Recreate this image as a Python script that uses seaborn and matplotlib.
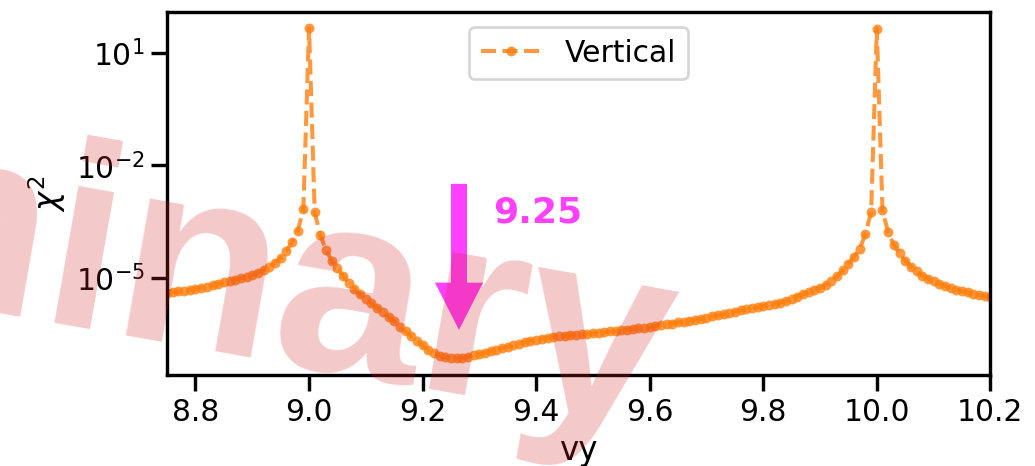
import numpy as np
import pandas as pd
import matplotlib
matplotlib.use("Agg")
import matplotlib.pyplot as plt
import matplotlib.transforms as mtransforms
from matplotlib.ticker import NullLocator
import seaborn as sns

# Vertical tune scan (step 0.01) and the fit chi^2, stored as log10 values
vy = np.round(np.arange(8.75, 10.2001, 0.01), 2)
log10_chi2 = [
    -5.40, -5.37, -5.36, -5.34, -5.32, -5.29, -5.27, -5.24, -5.20, -5.16,
    -5.12, -5.08, -5.05, -5.01, -4.97, -4.92, -4.86, -4.80, -4.71, -4.60,
    -4.47, -4.28, -4.05, -3.76, -3.16, 1.66, -3.25, -3.87, -4.26, -4.54,
    -4.75, -4.95, -5.13, -5.30, -5.44, -5.56, -5.68, -5.80, -5.92, -6.04,
    -6.16, -6.30, -6.43, -6.56, -6.68, -6.80, -6.92, -7.01, -7.08, -7.12,
    -7.14, -7.15, -7.13, -7.10, -7.07, -7.04, -7.00, -6.96, -6.92, -6.88,
    -6.84, -6.80, -6.76, -6.72, -6.68, -6.65, -6.62, -6.60, -6.58, -6.56,
    -6.55, -6.53, -6.52, -6.51, -6.50, -6.48, -6.47, -6.45, -6.43, -6.42,
    -6.40, -6.38, -6.37, -6.35, -6.33, -6.31, -6.29, -6.26, -6.24, -6.22,
    -6.19, -6.17, -6.14, -6.12, -6.10, -6.07, -6.03, -6.00, -5.97, -5.93,
    -5.90, -5.87, -5.84, -5.81, -5.78, -5.75, -5.72, -5.69, -5.66, -5.62,
    -5.56, -5.50, -5.44, -5.38, -5.32, -5.27, -5.19, -5.08, -4.96, -4.80,
    -4.63, -4.44, -4.22, -3.83, -3.24, 1.64, -3.20, -3.79, -4.12, -4.35,
    -4.54, -4.70, -4.83, -4.94, -5.02, -5.09, -5.16, -5.22, -5.27, -5.32,
    -5.36, -5.39, -5.42, -5.46, -5.49, -5.52,
]
series_label = "Vertical"
best_vy = 9.25
best_label = "9.25"
x_ticks = [8.8, 9.0, 9.2, 9.4, 9.6, 9.8, 10.0, 10.2]
y_ticks = [1e-5, 1e-2, 1e1]

df = pd.DataFrame({"vy": vy, "chi2": np.power(10.0, log10_chi2)})

sns.set_style("ticks")
sns.set_context("talk")
plt.rcParams.update({
    "font.family": ["DejaVu Sans"],
    "text.color": "black",
    "axes.labelcolor": "black",
    "axes.edgecolor": "black",
    "xtick.color": "black",
    "ytick.color": "black",
})

DPI = 130
fig = plt.figure(figsize=(1035.3 / DPI, 466.3 / DPI), dpi=DPI)
ax = fig.add_axes([0.1614, 0.1953, 0.7952, 0.779])

sns.lineplot(data=df, x="vy", y="chi2", ax=ax, color="#ff7f0e", alpha=0.8,
             linestyle="--", marker="o", markersize=5.5, markeredgewidth=0,
             label=series_label)

ax.set_yscale("log")
ax.set_xlim(8.75, 10.2)
ax.set_xticks(x_ticks)
ax.set_yticks(y_ticks)
ax.yaxis.set_minor_locator(NullLocator())
ax.set_xlabel("vy")
ax.set_ylabel(r"$\chi^2$")
ax.legend(loc="upper center")

# Marker for the chi^2 minimum: x in data units, y in axes units
trans = mtransforms.blended_transform_factory(ax.transData, ax.transAxes)
shaft_w = 0.0282
ax.arrow(best_vy + shaft_w / 2, 0.526, 0, -0.402, transform=trans,
         width=shaft_w, head_width=0.0846, head_length=0.13,
         length_includes_head=True, color="#ff00ff", alpha=0.75,
         linewidth=0, zorder=4)
ax.text(best_vy + 0.075, 0.4215, best_label, transform=trans,
        color="#ff00ff", alpha=0.75, fontsize=20, fontweight="bold",
        ha="left", va="baseline", zorder=4)

# Watermark across the figure
fig.text(-0.049, 0.341, "Preliminary", fontsize=146, fontweight="bold",
         family="Liberation Sans", color="#d62728", alpha=0.25,
         rotation=-10, rotation_mode="anchor",
         ha="center", va="baseline", zorder=10)

fig.savefig("out.png", dpi=DPI)
